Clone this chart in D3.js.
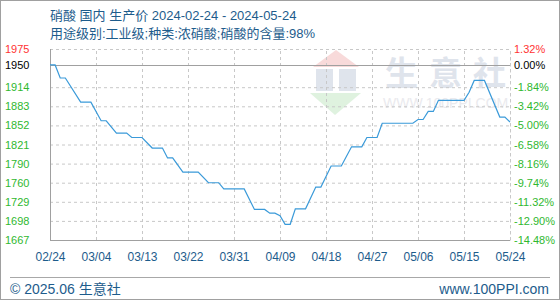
<!DOCTYPE html>
<html>
<head>
<meta charset="utf-8">
<script src="https://cdn.jsdelivr.net/npm/d3@7"></script>
<style>
  body { margin: 0; background: #fff; }
  svg text { font-family: "Liberation Sans", Arial, "Noto Sans CJK SC", sans-serif; }
</style>
</head>
<body>
<svg id="chart"></svg>
<script>
// price data (date, yuan/ton)
const dates = ["2024-02-24","2024-02-25","2024-02-26","2024-02-27","2024-03-01","2024-03-03",
  "2024-03-05","2024-03-06","2024-03-08","2024-03-10","2024-03-11","2024-03-13","2024-03-15",
  "2024-03-17","2024-03-18","2024-03-19","2024-03-21","2024-03-24","2024-03-26","2024-03-28",
  "2024-03-29","2024-04-02","2024-04-04","2024-04-06","2024-04-07","2024-04-08","2024-04-09",
  "2024-04-10","2024-04-11","2024-04-12","2024-04-14","2024-04-16","2024-04-17","2024-04-19",
  "2024-04-21","2024-04-23","2024-04-25","2024-04-26","2024-04-28","2024-04-29","2024-05-05",
  "2024-05-06","2024-05-07","2024-05-08","2024-05-09","2024-05-10","2024-05-15","2024-05-16",
  "2024-05-17","2024-05-19","2024-05-22","2024-05-23","2024-05-24"];
const prices = [1950,1950,1929,1929,1890,1890,
  1860,1860,1840,1840,1833,1833,1816,
  1816,1800,1800,1777,1777,1760,1760,
  1750,1750,1717,1717,1711,1711,1707,
  1693,1693,1718,1718,1753,1753,1787,
  1787,1818,1818,1833,1833,1856,1856,
  1862,1862,1875,1875,1893,1893,1906,
  1925,1925,1866,1866,1858];

const basePrice = 1950;
const pctTicks = [1.32, 0, -1.84, -3.42, -5.00, -6.58, -8.16, -9.74, -11.32, -12.90, -14.48];
const leftLabels = ["1975","1950","1914","1883","1852","1821","1790","1760","1729","1698","1667"];
const rightLabels = ["1.32%","0.00%","-1.84%","-3.42%","-5.00%","-6.58%","-8.16%","-9.74%","-11.32%","-12.90%","-14.48%"];
const xTickDates = ["2024-02-24","2024-03-04","2024-03-13","2024-03-22","2024-03-31","2024-04-09",
  "2024-04-18","2024-04-27","2024-05-06","2024-05-15","2024-05-24"];

const titleText = "硝酸 国内 生产价 2024-02-24 - 2024-05-24";
const subText = "用途级别:工业级;种类:浓硝酸;硝酸的含量:98%";
const wmChars = ["生","意","社"];

const W = 560, H = 300;
const margin = {top: 49, right: 50, bottom: 60, left: 50};
const width = W - margin.left - margin.right;
const height = H - margin.top - margin.bottom;

const blue = "#1d5c8c", red = "#ff3333", green = "#2fb82f";
const parse = d3.timeParse("%Y-%m-%d");

const svg = d3.select("#chart").attr("width", W).attr("height", H);

// outer frame
svg.append("rect")
  .attr("x", 0.5).attr("y", 0.5)
  .attr("width", W - 1).attr("height", H - 1)
  .attr("fill", "#fff").attr("stroke", "#a0a0a0");

svg.append("text").attr("x", 50).attr("y", 20)
  .attr("font-size", 13).attr("fill", blue).text(titleText);
svg.append("text").attr("x", 50).attr("y", 38)
  .attr("font-size", 13).attr("fill", blue).text(subText);

const g = svg.append("g").attr("transform", `translate(${margin.left},${margin.top})`);

const x = d3.scaleTime()
  .domain([parse(xTickDates[0]), parse(xTickDates[xTickDates.length - 1])])
  .range([0, width]);

const y = d3.scaleLinear()
  .domain([basePrice * (1 + d3.min(pctTicks) / 100), basePrice * (1 + d3.max(pctTicks) / 100)])
  .range([height, 0]);

const tickVals = pctTicks.map(p => basePrice * (1 + p / 100));

// watermark
const wm = g.append("g").attr("transform", `translate(${-margin.left},${-margin.top})`);
wm.append("polygon").attr("points", "336,50 313,67 359,67").attr("fill", "#f8dada");
wm.append("rect").attr("x", 316).attr("y", 69).attr("width", 17).attr("height", 22).attr("fill", "#dfe4ec");
wm.append("rect").attr("x", 339).attr("y", 69).attr("width", 17).attr("height", 22).attr("fill", "#dfe4ec");
wm.append("polygon").attr("points", "310,93 361,93 335,115").attr("fill", "#dff2df");
wm.selectAll(".wmc").data(wmChars).join("text")
  .attr("class", "wmc")
  .attr("x", (d, i) => 385 + i * 44).attr("y", 85)
  .attr("font-size", 33).attr("fill", "#dfe4ec")
  .attr("font-family", "Noto Sans CJK SC").attr("font-weight", "bold").text(d => d);
wm.append("text").attr("x", 383).attr("y", 108)
  .attr("font-size", 14).attr("fill", "#eaeaee").text("WWW.100PPI.COM");

// horizontal grid
const yGrid = g.append("g")
  .call(d3.axisLeft(y).tickValues(tickVals.slice(2, -1)).tickSize(-width).tickFormat(""));
yGrid.select(".domain").remove();
yGrid.selectAll("line").attr("stroke", "#c8c8c8").attr("stroke-dasharray", "3,3");

// vertical grid
const xGrid = g.append("g")
  .attr("transform", `translate(0,${height})`)
  .call(d3.axisBottom(x).tickValues(xTickDates.slice(1).map(parse)).tickSize(-height).tickFormat(""));
xGrid.select(".domain").remove();
xGrid.selectAll("line").attr("stroke", "#c8c8c8").attr("stroke-dasharray", "3,3");

// top border (dashed) and zero line
g.append("line").attr("x1", 0).attr("x2", width).attr("y1", 0.5).attr("y2", 0.5)
  .attr("stroke", "#c8c8c8").attr("stroke-dasharray", "3,3");
g.append("line").attr("x1", 0).attr("x2", width)
  .attr("y1", Math.round(y(basePrice)) + 0.5).attr("y2", Math.round(y(basePrice)) + 0.5)
  .attr("stroke", "#a0a0a0");

// left + bottom solid axes
g.append("line").attr("x1", 0.5).attr("x2", 0.5).attr("y1", 0).attr("y2", height).attr("stroke", "#a0a0a0");
g.append("line").attr("x1", 0).attr("x2", width).attr("y1", height + 0.5).attr("y2", height + 0.5).attr("stroke", "#a0a0a0");

// y labels
const colorFor = i => i === 0 ? red : (i === 1 ? "#000" : green);
const yLeft = g.append("g")
  .call(d3.axisLeft(y).tickValues(tickVals).tickSize(0).tickPadding(0)
    .tickFormat((d, i) => leftLabels[i]));
yLeft.select(".domain").remove();
yLeft.selectAll("text")
  .attr("x", -45).attr("text-anchor", "start")
  .attr("font-size", 11).attr("font-family", null)
  .attr("fill", (d, i) => colorFor(i));

const yRight = g.append("g").attr("transform", `translate(${width},0)`)
  .call(d3.axisRight(y).tickValues(tickVals).tickSize(0).tickPadding(4)
    .tickFormat((d, i) => rightLabels[i]));
yRight.select(".domain").attr("stroke", "#c8c8c8").attr("stroke-dasharray", "3,3");
yRight.selectAll("text")
  .attr("font-size", 11).attr("font-family", null)
  .attr("fill", (d, i) => colorFor(i));

// x labels
const xAxis = g.append("g").attr("transform", `translate(0,${height})`)
  .call(d3.axisBottom(x).tickValues(xTickDates.map(parse)).tickSize(0).tickPadding(12)
    .tickFormat(d3.timeFormat("%m/%d")));
xAxis.select(".domain").remove();
xAxis.selectAll("text").attr("font-size", 12).attr("font-family", null).attr("fill", blue);

// price line
const line = d3.line()
  .x((d, i) => x(parse(dates[i])))
  .y(d => y(d));
g.append("path")
  .datum(prices)
  .attr("fill", "none")
  .attr("stroke", "#3a9ad9")
  .attr("stroke-width", 1.2)
  .attr("d", line);

// footer
svg.append("line").attr("x1", 10).attr("x2", 550).attr("y1", 277.5).attr("y2", 277.5).attr("stroke", "#a8a8a8");
svg.append("text").attr("x", 10).attr("y", 294).attr("font-size", 14).attr("fill", blue).text("© 2025.06 生意社");
svg.append("text").attr("x", 549).attr("y", 294).attr("font-size", 14).attr("fill", blue)
  .attr("text-anchor", "end").text("www.100PPI.com");
</script>
</body>
</html>
